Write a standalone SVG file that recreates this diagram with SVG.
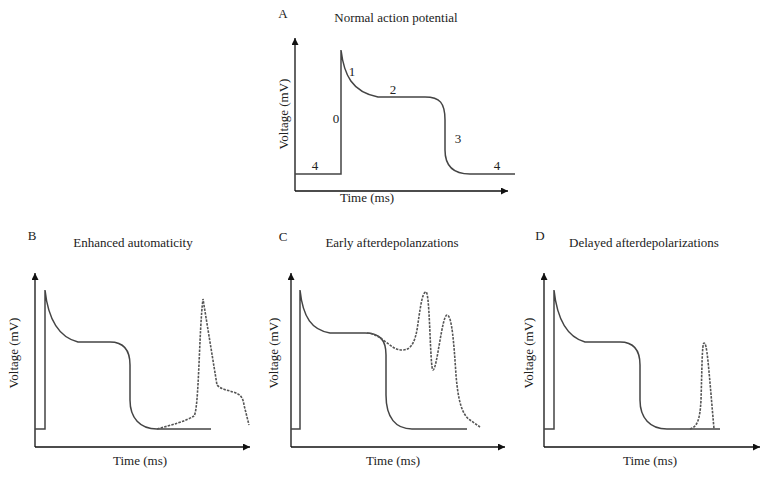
<svg xmlns="http://www.w3.org/2000/svg" width="770" height="478" viewBox="0 0 770 478">
<defs>
<marker id="arr" viewBox="0 0 10 10" refX="10" refY="5" markerWidth="10" markerHeight="7" markerUnits="userSpaceOnUse" orient="auto">
<path d="M0,0 L10,5 L0,10 z" fill="#111"/>
</marker>
</defs>
<style>
text{font-family:"Liberation Serif","Times New Roman",serif;font-size:13px;fill:#222}
.t{text-anchor:middle}
.ax{stroke:#111;stroke-width:1.3;fill:none;marker-end:url(#arr)}
.ap{stroke:#444;stroke-width:1.5;fill:none}
.ds{stroke:#555;stroke-width:1.6;fill:none;stroke-dasharray:2.5,1.2}
</style>
<rect width="770" height="478" fill="#fff"/>

<g id="panelA">
<text x="283" y="18" class="t">A</text>
<text x="396" y="22" class="t">Normal action potential</text>
<g id="axesA">
<path class="ax" d="M295,191 V38"/>
<path class="ax" d="M295,191 H508"/>
</g>
<path class="ap" d="M295,174 H341 V50 C344,75 352,92 378,97 H425 C440,97 445,103 445,120 V150 C445,165 452,174 470,174 H515"/>
<text x="315" y="170" class="t">4</text>
<text x="336" y="123" class="t">0</text>
<text x="352" y="76" class="t">1</text>
<text x="393" y="94" class="t">2</text>
<text x="458" y="143" class="t">3</text>
<text x="497" y="170" class="t">4</text>
<text x="367" y="202" class="t">Time (ms)</text>
<text transform="translate(288,114) rotate(-90)" class="t">Voltage (mV)</text>
</g>

<g id="panelB">
<text x="32" y="240" class="t">B</text>
<text x="133" y="247" class="t">Enhanced automaticity</text>
<g id="axesB">
<path class="ax" d="M35,447 V273"/>
<path class="ax" d="M35,447 H250"/>
</g>
<path class="ap" d="M35,429 H45 V290 C48,318 58,337 78,342 H110 C124,342 130,350 130,365 V400 C130,418 140,429 157,429 H211"/>
<path class="ds" d="M157,429 C172,425 186,421 194,416 C199,410 199,330 203,299 L217,385 C222,390 228,390 233,392 C240,394 243,397 244,405 L249,425"/>
<text x="140" y="465" class="t">Time (ms)</text>
<text transform="translate(18,353) rotate(-90)" class="t">Voltage (mV)</text>
</g>

<g id="panelC">
<text x="283" y="241" class="t">C</text>
<text x="392" y="247" class="t">Early afterdepolanzations</text>
<g id="axesC">
<path class="ax" d="M291,447 V273"/>
<path class="ax" d="M291,447 H505"/>
</g>
<path class="ap" d="M291,429 H300 V290 C303,318 312,330 330,333 H365 C380,333 386,340 386,355 V395 C386,418 396,429 412,429 H467"/>
<path class="ds" d="M367,333 C382,334 390,350 402,350 C410,350 414,345 417,330 C420,310 422,292 426,292 C430,292 430,370 433,370 C437,370 442,315 447,315 C452,315 454,345 456,375 C458,400 462,415 470,420 L480,427"/>
<text x="393" y="465" class="t">Time (ms)</text>
<text transform="translate(278,353) rotate(-90)" class="t">Voltage (mV)</text>
</g>

<g id="panelD">
<text x="540" y="240" class="t">D</text>
<text x="644" y="247" class="t">Delayed afterdepolarizations</text>
<g id="axesD">
<path class="ax" d="M544,447 V273"/>
<path class="ax" d="M544,447 H760"/>
</g>
<path class="ap" d="M544,429 H554 V290 C557,318 567,337 585,342 H620 C634,342 640,350 640,365 V400 C640,418 650,429 667,429 H720"/>
<path class="ds" d="M690,429 C697,427 700,420 701,400 C702,370 702,343 704,343 C707,343 708,360 714,429"/>
<text x="650" y="465" class="t">Time (ms)</text>
<text transform="translate(533,353) rotate(-90)" class="t">Voltage (mV)</text>
</g>
</svg>
